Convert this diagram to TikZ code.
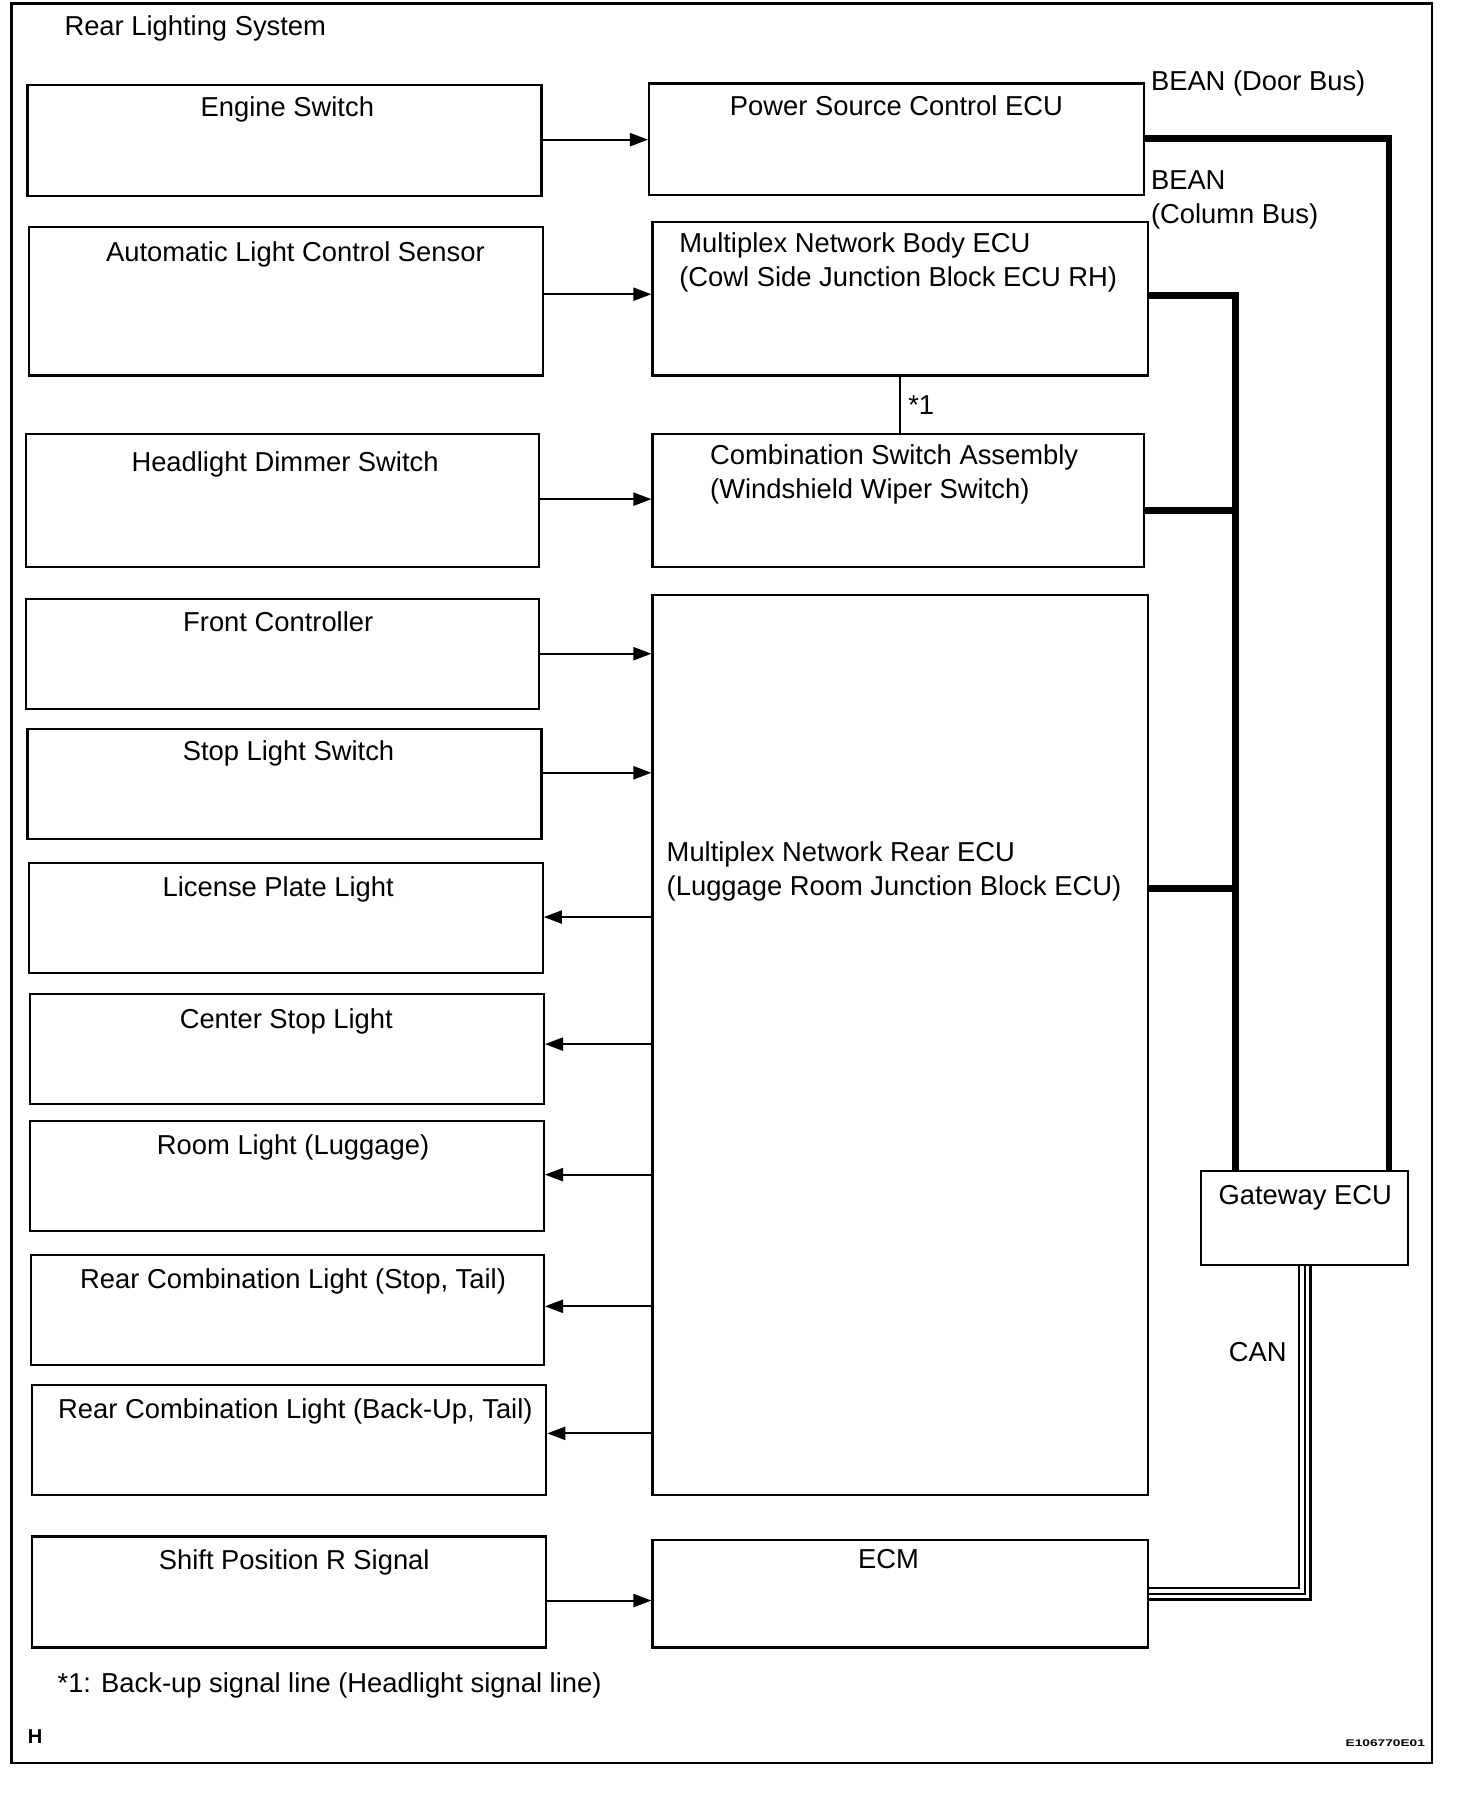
\documentclass[tikz,border=0pt]{standalone}
\usepackage{fontspec}
\setmainfont{Liberation Sans}
\usetikzlibrary{arrows.meta,fit}

\begin{document}
\begin{tikzpicture}[x=0.02cm,y=-0.02cm,line join=miter,>={Triangle[length=9pt,width=6.5pt]},
    box/.style={draw,line width=1.1pt,inner sep=0pt},
    sig/.style={->,line width=1pt},
    bus/.style={line width=3.2pt},
    lbl/.style={inner sep=0pt,font=\fontsize{13.6}{17}\selectfont},
    canout/.style={line width=7pt},
    cangap/.style={line width=4.6pt,white},
    canmid/.style={line width=1pt}]
  \useasboundingbox (0,0) rectangle (1272,1567);
  \draw[line width=1.1pt] (10,3) rectangle (1251,1540);
  \draw (56,13) node[lbl,anchor=north west] (title) {Rear Lighting System};

  % switches and lights
  \node[box,fit={(24,74) (473,171)}] (engine) {};
  \node[box,fit={(25,198) (474,328)}] (alcs) {};
  \node[box,fit={(23,379) (471,495)}] (hds) {};
  \node[box,fit={(23,523) (471,619)}] (frontc) {};
  \node[box,fit={(24,637) (473,733)}] (stopsw) {};
  \node[box,fit={(25,754) (474,850)}] (lplate) {};
  \node[box,fit={(26,868) (475,964)}] (cstop) {};
  \node[box,fit={(26,979) (475,1075)}] (rooml) {};
  \node[box,fit={(27,1096) (475,1192)}] (rcstop) {};
  \node[box,fit={(28,1210) (477,1306)}] (rcback) {};
  \node[box,fit={(28,1342) (477,1439)}] (shiftr) {};
  \draw (251,84) node[lbl,anchor=north] (engine-t) {Engine Switch};
  \draw (258,211) node[lbl,anchor=north] (alcs-t) {Automatic Light Control Sensor};
  \draw (249,394) node[lbl,anchor=north] (hds-t) {Headlight Dimmer Switch};
  \draw (243,534) node[lbl,anchor=north] (frontc-t) {Front Controller};
  \draw (252,647) node[lbl,anchor=north] (stopsw-t) {Stop Light Switch};
  \draw (243,765) node[lbl,anchor=north] (lplate-t) {License Plate Light};
  \draw (250,881) node[lbl,anchor=north] (cstop-t) {Center Stop Light};
  \draw (256,991) node[lbl,anchor=north] (rooml-t) {Room Light (Luggage)};
  \draw (256,1108) node[lbl,anchor=north] (rcstop-t) {Rear Combination Light (Stop, Tail)};
  \draw (258,1221) node[lbl,anchor=north] (rcback-t) {Rear Combination Light (Back-Up, Tail)};
  \draw (257,1353) node[lbl,anchor=north] (shiftr-t) {Shift Position R Signal};

  % ECUs
  \node[box,fit={(567,73) (999,170)}] (psc) {};
  \node[box,fit={(570,194) (1003,328)}] (mnb) {};
  \node[box,fit={(570,379) (999,495)}] (csa) {};
  \node[box,fit={(570,520) (1003,1306)}] (mnr) {};
  \node[box,fit={(570,1345) (1003,1439)}] (ecm) {};
  \node[box,fit={(1049,1023) (1230,1105)}] (gw) {};
  \draw (783,83) node[lbl,anchor=north] (psc-t) {Power Source Control ECU};
  \draw (593,203) node[lbl,anchor=north west,align=left] (mnb-t) {Multiplex Network Body ECU\\(Cowl Side Junction Block ECU RH)};
  \draw (620,388) node[lbl,anchor=north west,align=left] (csa-t) {Combination Switch Assembly\\(Windshield Wiper Switch)};
  \draw (582,735) node[lbl,anchor=north west,align=left] (mnr-t) {Multiplex Network Rear ECU\\(Luggage Room Junction Block ECU)};
  \draw (776,1353) node[lbl,anchor=north] (ecm-t) {ECM};
  \draw (1140,1035) node[lbl,anchor=north] (gw-t) {Gateway ECU};

  % signal lines
  \draw[sig] (engine.east |- 0,122) -- (psc.west |- 0,122);
  \draw[sig] (alcs.east |- 0,257) -- (mnb.west |- 0,257);
  \draw[sig] (hds.east |- 0,436) -- (csa.west |- 0,436);
  \draw[sig] (frontc.east |- 0,571) -- (mnr.west |- 0,571);
  \draw[sig] (stopsw.east |- 0,675) -- (mnr.west |- 0,675);
  \draw[sig] (mnr.west |- 0,801) -- (lplate.east |- 0,801);
  \draw[sig] (mnr.west |- 0,912) -- (cstop.east |- 0,912);
  \draw[sig] (mnr.west |- 0,1026) -- (rooml.east |- 0,1026);
  \draw[sig] (mnr.west |- 0,1141) -- (rcstop.east |- 0,1141);
  \draw[sig] (mnr.west |- 0,1252) -- (rcback.east |- 0,1252);
  \draw[sig] (shiftr.east |- 0,1398) -- (ecm.west |- 0,1398);
  \draw[line width=1pt] (mnb.south) -- (mnb.south |- csa.north);
  \draw (793,345) node[lbl,anchor=north west] (star1) {*1};

  % BEAN buses
  \coordinate (gwdoor) at (1213,1023);
  \coordinate (gwcol) at (1079,1023);
  \draw[bus] (psc.east |- 0,121) -| (gwdoor);
  \draw[bus] (mnb.east |- 0,258) -| (gwcol);
  \draw[bus] (csa.east |- 0,446) -- (gwcol |- 0,446);
  \draw[bus] (mnr.east |- 0,776) -- (gwcol |- 0,776);
  \draw (1005,61) node[lbl,anchor=north west] (door-t) {BEAN (Door Bus)};
  \draw (1005,149) node[lbl,anchor=north west,align=left] (col-t) {BEAN\\(Column Bus)};

  % CAN
  \draw[canout] (gw.south) |- (ecm.east);
  \draw[cangap] (gw.south) |- (ecm.east);
  \draw[canmid] (gw.south) |- (ecm.east);
  \draw (1073,1172) node[lbl,anchor=north west] (can-t) {CAN};

  \draw (50,1461) node[lbl,anchor=north west] (note) {*1: Back-up signal line (Headlight signal line)};
  \draw (24,1510) node[anchor=north west,inner sep=0pt,font=\fontsize{10}{11}\bfseries] (hmark) {H};
  \draw (1245,1519) node[anchor=north east,inner sep=0pt,font=\fontsize{4.8}{5}\bfseries] (docid) {\scalebox{1.42}[1]{E106770E01}};
\end{tikzpicture}
\end{document}
